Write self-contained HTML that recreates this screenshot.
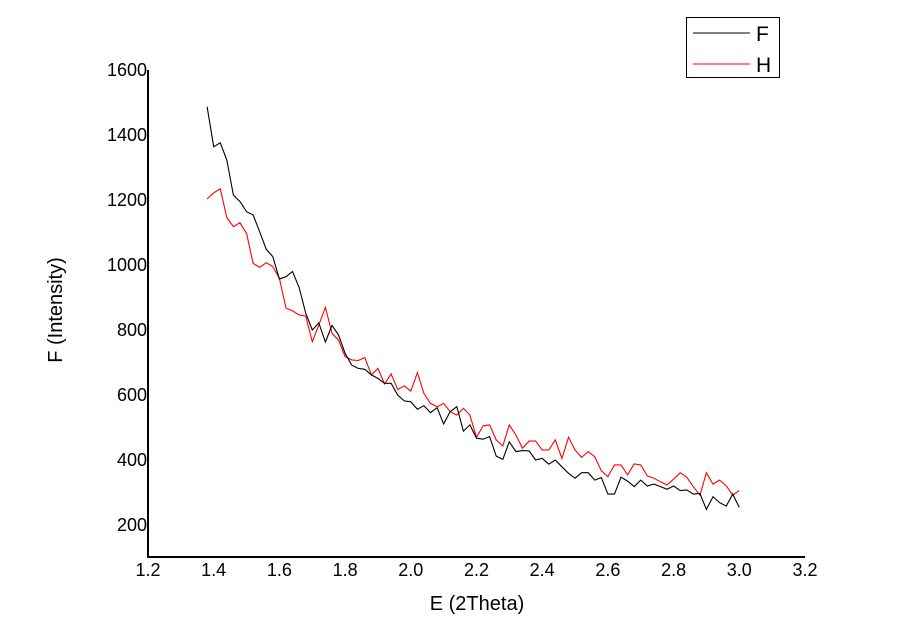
<!DOCTYPE html>
<html><head><meta charset="utf-8"><style>
html,body{margin:0;padding:0;background:#fff;}
svg{display:block;font-family:"Liberation Sans",Arial,sans-serif;}
</style></head><body>
<svg id="chart" width="900" height="631" viewBox="0 0 900 631">
<g id="axes"></g>
<g id="series"></g>
<text x="62" y="310" font-size="20" text-anchor="middle" transform="rotate(-90 62 310)">F (Intensity)</text>
<text x="477" y="610" font-size="20" text-anchor="middle">E (2Theta)</text>
<g>
<rect x="686.5" y="17.5" width="93" height="60" fill="#fff" stroke="#000" stroke-width="1"/>
<line x1="693" y1="33" x2="750" y2="33" stroke="#000" stroke-width="1"/>
<text x="756" y="41" font-size="21">F</text>
<line x1="693" y1="64" x2="750" y2="64" stroke="#ff0000" stroke-width="1"/>
<text x="756" y="72" font-size="21">H</text>
</g>
</svg>
<script>
const xStart = 1.38;
const xStep = 0.02;
const xTicks = ["1.2","1.4","1.6","1.8","2.0","2.2","2.4","2.6","2.8","3.0","3.2"];
const yTicks = ["200","400","600","800","1000","1200","1400","1600"];
const seriesF = [1487,1364,1376,1323,1215,1195,1164,1154,1102,1048,1026,957,964,980,931,852,800,822,763,814,785,728,692,682,679,662,651,636,636,600,582,579,556,567,546,561,511,549,564,489,508,467,464,472,412,402,456,426,429,428,400,405,387,400,379,359,344,361,361,338,346,295,295,347,335,318,338,320,326,318,310,320,306,308,295,297,248,287,269,258,295,254];
const seriesH = [1203,1222,1234,1146,1118,1130,1097,1005,993,1007,995,959,867,859,846,843,764,815,870,790,769,718,708,706,715,662,682,634,665,617,628,612,669,605,574,564,574,549,538,559,538,470,505,508,462,443,508,477,436,458,458,431,431,462,405,470,431,408,426,410,367,349,385,385,354,388,385,351,344,333,323,341,361,347,318,292,361,326,338,321,292,306];

const NS = "http://www.w3.org/2000/svg";
function xPx(v){ return 148 + (v - 1.2) * 328.5; }
function yPx(v){ return 525 - (v - 200) * 0.325; }
function mk(tag, attrs){ const e = document.createElementNS(NS, tag); for (const k in attrs) e.setAttribute(k, attrs[k]); return e; }

const axes = document.getElementById('axes');
const yAxis = mk('line', {x1:148, y1:70, x2:148, y2:558, stroke:'#000', 'stroke-width':2});


axes.appendChild(yAxis);
const xAxis = mk('line', {x1:147, y1:557, x2:805, y2:557, stroke:'#000', 'stroke-width':2});


axes.appendChild(xAxis);

xTicks.forEach(function(t){
  const tx = mk('text', {x:xPx(parseFloat(t)), y:576, 'font-size':18, 'text-anchor':'middle'});
  tx.textContent = t;
  
  
  axes.appendChild(tx);
});
yTicks.forEach(function(t){
  const ty = mk('text', {x:147, y:yPx(parseFloat(t)) + 6, 'font-size':18, 'text-anchor':'end'});
  ty.textContent = t;
  
  
  axes.appendChild(ty);
});

const series = document.getElementById('series');
function pts(arr){ return arr.map(function(v,i){ return xPx(xStart + i*xStep).toFixed(1) + ',' + yPx(v).toFixed(1); }).join(' '); }
const lineH = mk('polyline', {points:pts(seriesH), fill:'none', stroke:'#ff0000', 'stroke-width':1.1});


series.appendChild(lineH);
const lineF = mk('polyline', {points:pts(seriesF), fill:'none', stroke:'#000', 'stroke-width':1.1});


series.appendChild(lineF);
</script>
</body></html>
